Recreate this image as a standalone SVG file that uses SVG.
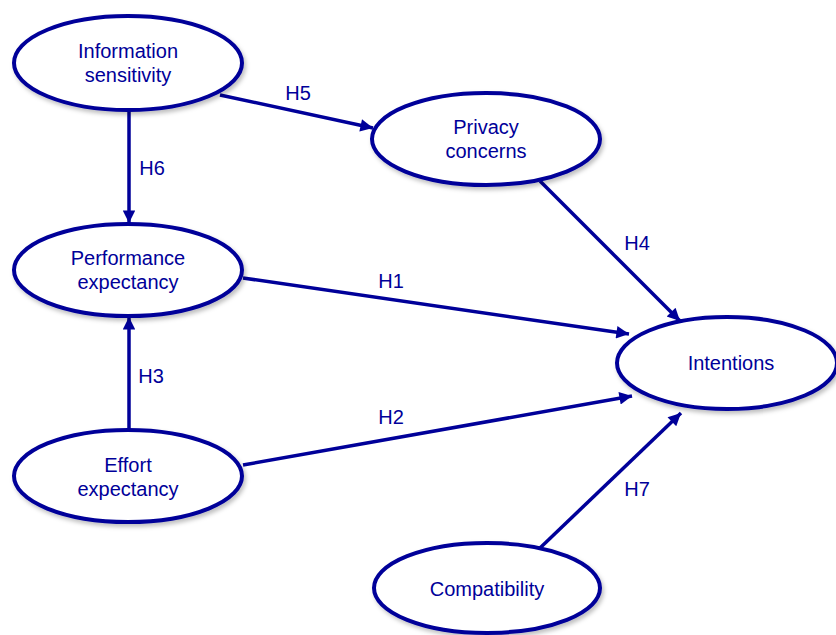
<svg xmlns="http://www.w3.org/2000/svg" width="836" height="635" viewBox="0 0 836 635">
<style>
.node ellipse{fill:#fff;stroke:#000099;stroke-width:4;filter:url(#sh)}
.node text,.lbl{font-family:"Liberation Sans",Arial,sans-serif;font-size:20px;fill:#000099;text-anchor:middle}
.edge{stroke:#000099;stroke-width:3.5;fill:none;marker-end:url(#ah)}
</style>
<defs>
<filter id="sh" x="-10%" y="-10%" width="125%" height="130%">
<feDropShadow dx="2" dy="3" stdDeviation="2" flood-color="#000" flood-opacity="0.25"/>
</filter>
<marker id="ah" viewBox="0 0 10 10" refX="10" refY="5" markerWidth="6" markerHeight="3.6" orient="auto" markerUnits="strokeWidth">
<path d="M0,0 L10,5 L0,10 z" fill="#000099"/>
</marker>
</defs>
<g id="connectors">
<line class="edge" x1="129" y1="110" x2="129" y2="223"/>
<line class="edge" x1="220" y1="95" x2="373" y2="128"/>
<line class="edge" x1="540" y1="181" x2="680" y2="321"/>
<line class="edge" x1="243" y1="278" x2="629" y2="334"/>
<line class="edge" x1="243" y1="465" x2="632" y2="396"/>
<line class="edge" x1="540" y1="548" x2="681" y2="413"/>
<line class="edge" x1="129" y1="430" x2="129" y2="317"/>
<text class="lbl" x="298" y="100">H5</text>
<text class="lbl" x="152" y="175">H6</text>
<text class="lbl" x="637" y="250">H4</text>
<text class="lbl" x="391" y="288">H1</text>
<text class="lbl" x="391" y="424">H2</text>
<text class="lbl" x="151" y="383">H3</text>
<text class="lbl" x="637" y="496">H7</text>
</g>
<g id="info" class="node">
<ellipse cx="128" cy="63" rx="114" ry="47"/>
<text x="128" y="58">Information</text>
<text x="128" y="82">sensitivity</text>
</g>
<g id="privacy" class="node">
<ellipse cx="486" cy="139" rx="114" ry="46"/>
<text x="486" y="134">Privacy</text>
<text x="486" y="158">concerns</text>
</g>
<g id="performance" class="node">
<ellipse cx="128" cy="270" rx="114" ry="46"/>
<text x="128" y="265">Performance</text>
<text x="128" y="289">expectancy</text>
</g>
<g id="intentions" class="node">
<ellipse cx="727" cy="363" rx="110" ry="46"/>
<text x="731" y="370">Intentions</text>
</g>
<g id="effort" class="node">
<ellipse cx="128" cy="476" rx="114" ry="46"/>
<text x="128" y="472">Effort</text>
<text x="128" y="496">expectancy</text>
</g>
<g id="compat" class="node">
<ellipse cx="487" cy="588" rx="113" ry="45"/>
<text x="487" y="596">Compatibility</text>
</g>
</svg>
